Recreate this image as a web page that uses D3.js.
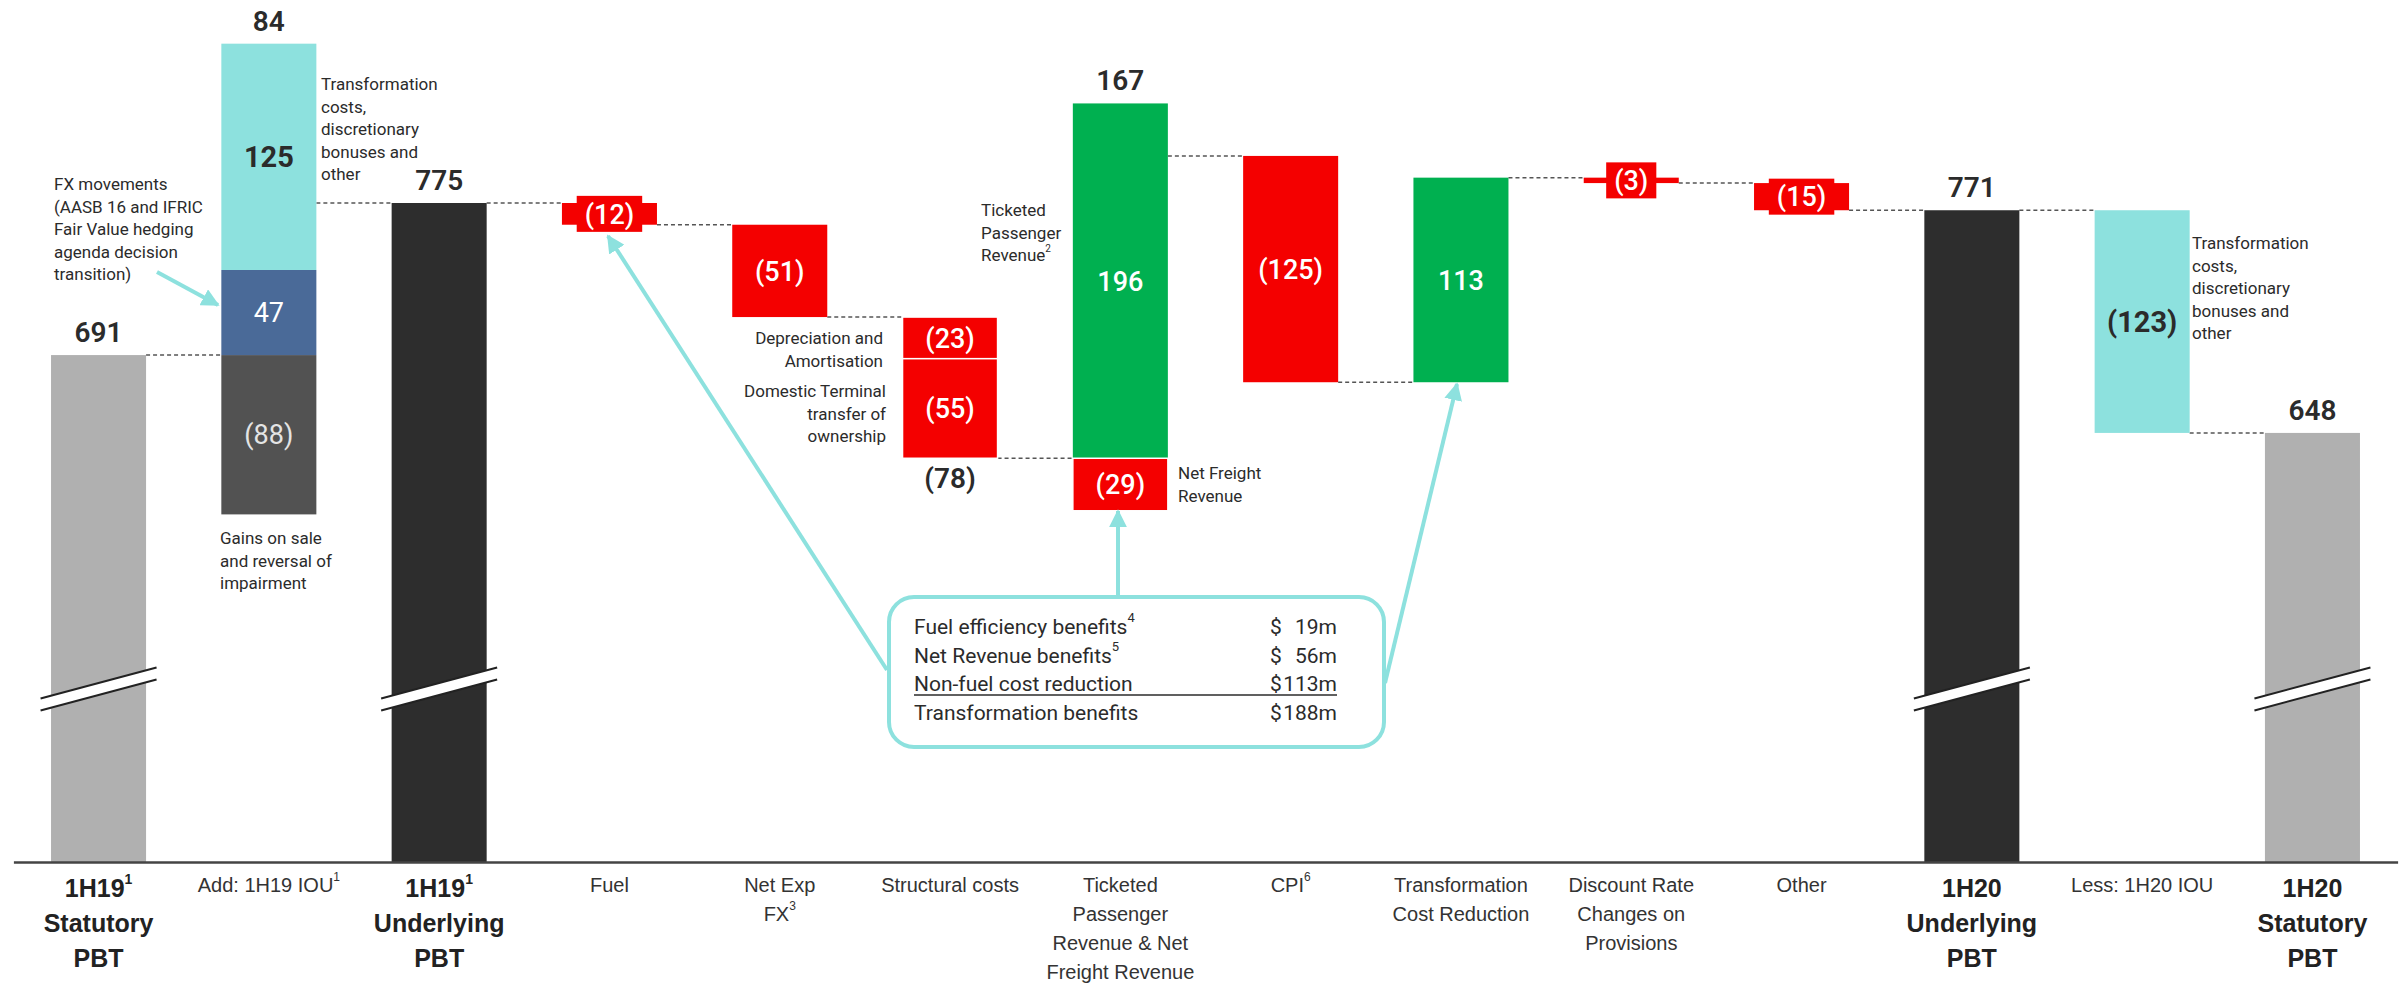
<!DOCTYPE html>
<html>
<head>
<meta charset="utf-8">
<script src="https://cdnjs.cloudflare.com/ajax/libs/d3/7.8.5/d3.min.js"></script>
<style>
  html, body { margin: 0; padding: 0; background: #fff; }
  svg { display: block; font-family: Roboto, "Noto Sans", sans-serif; }
</style>
</head>
<body>
<svg id="chart" width="2407" height="987"></svg>
<script>
// ===== DATA =====
// x-axis labels, one array of lines per column ("^" marks a superscript)
const categories = [
  ["1H19^1", "Statutory", "PBT"],
  ["Add: 1H19 IOU^1"],
  ["1H19^1", "Underlying", "PBT"],
  ["Fuel"],
  ["Net Exp", "FX^3"],
  ["Structural costs"],
  ["Ticketed", "Passenger", "Revenue & Net", "Freight Revenue"],
  ["CPI^6"],
  ["Transformation", "Cost Reduction"],
  ["Discount Rate", "Changes on", "Provisions"],
  ["Other"],
  ["1H20", "Underlying", "PBT"],
  ["Less: 1H20 IOU"],
  ["1H20", "Statutory", "PBT"]
];

// full-height PBT columns ($m)
const totals = [691, null, 775, null, null, null, null, null, null, null, null, 771, null, 648];
const totalKinds = ["statutory", null, "underlying", null, null, null, null, null, null, null, null, "underlying", null, "statutory"];

// floating movements ($m) and what each piece is
const deltas = [[], [-88, 47, 125], [], [-12], [-51], [-23, -55], [196, -29], [-125], [113], [-3], [-15], [], [-123], []];
const deltaKinds = [[], ["gains", "fx", "transform"], [], ["cost"], ["cost"], ["cost", "cost"], ["revenue", "cost"],
  ["cost"], ["revenue"], ["cost"], ["cost"], [], ["transform"], []];

// transformation benefits call-out
const benefitLabels = ["Fuel efficiency benefits^4", "Net Revenue benefits^5", "Non-fuel cost reduction", "Transformation benefits"];
const benefitValues = [19, 56, 113, 188];

// ===== STYLE =====
const fills = {
  statutory: "#b0b0b0", underlying: "#2d2d2d", gains: "#525252", fx: "#4a6a98",
  transform: "#8de1de", cost: "#f40000", revenue: "#00b050"
};
const labelStyle = {
  gains: { fill: "#e4e4e4", weight: 400 },
  fx: { fill: "#ffffff", weight: 400 },
  transform: { fill: "#2b2b2b", weight: 700 },
  cost: { fill: "#ffffff", weight: 500 },
  revenue: { fill: "#ffffff", weight: 500 }
};
const cyan = "#8de1de";
const ink = "#2b2b2b";

const svg = d3.select("#chart");
const baseY = 862;

const x = d3.scaleBand()
  .domain(d3.range(categories.length))
  .range([13.4, 2397.6])
  .paddingInner(0.442)
  .paddingOuter(0.221);
const bw = x.bandwidth();

// axis is broken: the baseline sits at 411, not zero
const y = d3.scaleLinear().domain([411, 775]).range([baseY, 203]);

const fmt = v => v < 0 ? `(${-v})` : `${v}`;

// write "text^sup" into a text element
function richText(sel, str, supSize) {
  const [main, sup] = str.split("^");
  sel.append("tspan").text(main);
  if (sup) sel.append("tspan").attr("font-size", supSize).attr("dy", -supSize * 0.9).text(sup);
}

// ===== LAYOUT =====
const segs = [];
const levels = [];
const nets = [];
let running = 0;
categories.forEach((_, i) => {
  if (totals[i] != null) {
    segs.push({ i, lo: y.domain()[0], hi: totals[i], kind: totalKinds[i], total: true });
    running = totals[i];
  } else {
    let up = running, down = running;
    const mine = [];
    deltas[i].forEach((d, k) => {
      const s = d >= 0
        ? { i, lo: up, hi: up + d, v: d, kind: deltaKinds[i][k] }
        : { i, lo: down + d, hi: down, v: d, kind: deltaKinds[i][k] };
      if (d >= 0) up += d; else down += d;
      segs.push(s); mine.push(s);
    });
    const net = d3.sum(deltas[i]);
    if (deltas[i].length > 1) nets.push({ i, net, top: up, bottom: down });
    running += net;
  }
  levels[i] = running;
});

// ===== CONNECTORS =====
svg.append("g")
  .selectAll("line")
  .data(d3.range(categories.length - 1))
  .join("line")
  .attr("x1", i => x(i) + bw)
  .attr("x2", i => x(i + 1))
  .attr("y1", i => y(levels[i]))
  .attr("y2", i => y(levels[i]))
  .attr("stroke", "#555")
  .attr("stroke-width", 1.5)
  .attr("stroke-dasharray", "4,3");

// ===== BARS =====
svg.append("g")
  .selectAll("rect")
  .data(segs)
  .join("rect")
  .attr("x", d => x(d.i))
  .attr("width", bw)
  .attr("y", d => y(d.hi))
  .attr("height", d => y(d.lo) - y(d.hi))
  .attr("fill", d => fills[d.kind])
  .attr("stroke", d => d.kind === "cost" && deltas[d.i].length > 1 ? "#ffffff" : "none")
  .attr("stroke-width", 1.5);

// break marks on the PBT columns
const brk = svg.append("g");
segs.filter(d => d.total).forEach(d => {
  const cx = x(d.i) + bw / 2, cy = 689;
  brk.append("polygon")
    .attr("points", [[cx - 58, cy + 9.5], [cx + 58, cy - 21.5], [cx + 58, cy - 9.5], [cx - 58, cy + 21.5]].join(" "))
    .attr("fill", "#fff");
  [[9.5, -21.5], [21.5, -9.5]].forEach(([a, b]) => {
    brk.append("line")
      .attr("x1", cx - 58).attr("y1", cy + a)
      .attr("x2", cx + 58).attr("y2", cy + b)
      .attr("stroke", "#222").attr("stroke-width", 2);
  });
});

// ===== VALUE LABELS =====
const valG = svg.append("g").attr("text-anchor", "middle");

segs.filter(d => !d.total).forEach(d => {
  const cx = x(d.i) + bw / 2;
  const cy = (y(d.hi) + y(d.lo)) / 2;
  const h = y(d.lo) - y(d.hi);
  const st = labelStyle[d.kind];
  const fs = d.kind === "transform" ? 29 : 27;
  const t = valG.append("text")
    .attr("x", cx).attr("y", cy)
    .attr("dy", "0.36em")
    .attr("font-size", fs)
    .attr("font-weight", st.weight)
    .attr("fill", st.fill)
    .text(fmt(d.v));
  if (h < 34) {
    // short bars get a tag behind the number
    const tw = t.node().getComputedTextLength();
    valG.insert("rect", () => t.node())
      .attr("x", cx - tw / 2 - 8).attr("width", tw + 16)
      .attr("y", cy - 18).attr("height", 36)
      .attr("fill", fills[d.kind]);
  }
});

// totals above PBT columns
segs.filter(d => d.total).forEach(d => {
  valG.append("text")
    .attr("x", x(d.i) + bw / 2).attr("y", y(d.hi) - 13)
    .attr("font-size", 28).attr("font-weight", 600).attr("fill", ink)
    .text(d.hi);
});

// net movement for stacked columns
nets.forEach(n => {
  valG.append("text")
    .attr("x", x(n.i) + bw / 2)
    .attr("y", n.net >= 0 ? y(n.top) - 13 : y(n.bottom) + 30)
    .attr("font-size", 28).attr("font-weight", 600).attr("fill", ink)
    .text(fmt(n.net));
});

// ===== AXIS =====
const axis = svg.append("g")
  .attr("transform", `translate(0,${baseY})`)
  .call(d3.axisBottom(x).tickSize(0).tickSizeOuter(0).tickFormat(""));
axis.select(".domain").attr("stroke", "#444").attr("stroke-width", 2.5);
axis.selectAll(".tick").each(function (i) {
  const bold = totals[i] != null;
  const fs = bold ? 25 : 20;
  const lh = bold ? 35 : 29;
  categories[i].forEach((line, k) => {
    const t = d3.select(this).append("text")
      .attr("y", (bold ? 35 : 30) + k * lh)
      .attr("text-anchor", "middle")
      .attr("font-size", fs)
      .attr("font-weight", bold ? 700 : 400)
      .attr("fill", bold ? "#222" : "#333");
    richText(t, line, bold ? 14 : 12);
  });
});

// ===== ANNOTATIONS =====
function note(lines, x0, y0, anchor, lh = 22.5) {
  lines.forEach((line, k) => {
    const t = svg.append("text")
      .attr("x", x0).attr("y", y0 + k * lh)
      .attr("text-anchor", anchor)
      .attr("font-size", 17).attr("fill", ink);
    richText(t, line, 10);
  });
}
note(["Transformation", "costs,", "discretionary", "bonuses and", "other"], 321, 90, "start");
note(["FX movements", "(AASB 16 and IFRIC", "Fair Value hedging", "agenda decision", "transition)"], 54, 190, "start");
note(["Gains on sale", "and reversal of", "impairment"], 220, 544, "start");
note(["Ticketed", "Passenger", "Revenue^2"], 981, 216, "start");
note(["Net Freight", "Revenue"], 1178, 479, "start");
note(["Depreciation and", "Amortisation"], 883, 344, "end");
note(["Domestic Terminal", "transfer  of", "ownership"], 886, 397, "end");
note(["Transformation", "costs,", "discretionary", "bonuses and", "other"], 2192, 249, "start");

// ===== CALL-OUT ARROWS =====
svg.append("defs").append("marker")
  .attr("id", "head")
  .attr("viewBox", "0 0 10 10")
  .attr("refX", 9).attr("refY", 5)
  .attr("markerWidth", 4.5).attr("markerHeight", 4.5)
  .attr("orient", "auto")
  .append("path").attr("d", "M0,0 L10,5 L0,10 z").attr("fill", cyan);

const arrows = [
  [157, 272, 218, 305],
  [887, 670, 608, 236],
  [1118, 597, 1118, 511],
  [1385, 683, 1457, 384]
];
svg.append("g")
  .selectAll("line")
  .data(arrows)
  .join("line")
  .attr("x1", d => d[0]).attr("y1", d => d[1])
  .attr("x2", d => d[2]).attr("y2", d => d[3])
  .attr("stroke", cyan).attr("stroke-width", 4)
  .attr("marker-end", "url(#head)");

// benefits box
const box = svg.append("g");
box.append("rect")
  .attr("x", 889).attr("y", 597).attr("width", 495).attr("height", 150).attr("rx", 25)
  .attr("fill", "#fff").attr("stroke", cyan).attr("stroke-width", 4);
benefitLabels.forEach((lab, k) => {
  const by = 634 + k * 28.7;
  const t = box.append("text").attr("x", 914).attr("y", by).attr("font-size", 21).attr("fill", ink);
  richText(t, lab, 13);
  box.append("text").attr("x", 1270).attr("y", by).attr("font-size", 21).attr("fill", ink).text("$");
  box.append("text").attr("x", 1337).attr("y", by).attr("text-anchor", "end")
    .attr("font-size", 21).attr("fill", ink).text(`${benefitValues[k]}m`);
});
box.append("line")
  .attr("x1", 914).attr("x2", 1337).attr("y1", 695).attr("y2", 695)
  .attr("stroke", ink).attr("stroke-width", 1.5);
</script>
</body>
</html>
